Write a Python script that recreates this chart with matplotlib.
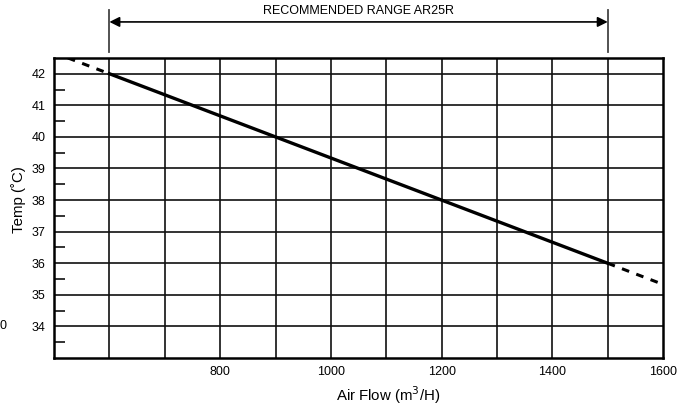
import matplotlib.pyplot as plt
import matplotlib.transforms as mtransforms

plt.rcParams['font.family'] = ['Liberation Sans', 'DejaVu Sans']

# rated range (solid) and extrapolated ends (dashed)
air_flow = [600, 1500]
temp = [42, 36]
air_flow_low = [525, 600]
temp_low = [42.5, 42]
air_flow_high = [1500, 1600]
temp_high = [36, 35.33]

range_start = 600
range_end = 1500
range_label = 'RECOMMENDED RANGE AR25R'

x_ticks = [800, 1000, 1200, 1400, 1600]
y_ticks = [34, 35, 36, 37, 38, 39, 40, 41, 42]

fig = plt.figure(figsize=(6.9, 4.08), dpi=100)
ax = fig.add_axes([0.0783, 0.1225, 0.8827, 0.7355])

ax.set_xlim(500, 1600)
ax.set_ylim(33, 42.5)

# grid every 100 on x, every 1 on y
for gx in range(600, 1600, 100):
    ax.axvline(gx, color='#111111', lw=1.2, zorder=1)
for gy in y_ticks:
    ax.axhline(gy, color='#111111', lw=1.2, zorder=1)

ax.plot(air_flow, temp, color='black', lw=2.4, zorder=3)
ax.plot(air_flow_low, temp_low, color='black', lw=2.2, ls=(0, (2.5, 2.5)), zorder=3)
ax.plot(air_flow_high, temp_high, color='black', lw=2.2, ls=(0, (2.5, 2.5)), zorder=3)

ax.set_xticks(x_ticks)
ax.set_yticks(y_ticks)
ax.set_yticks([v + 0.5 for v in range(33, 42)], minor=True)
ax.tick_params(axis='both', which='major', length=0, labelsize=9, pad=6)
ax.tick_params(axis='y', which='minor', direction='in', length=8, width=1.2, color='#111111')
ax.tick_params(axis='x', which='minor', length=0)

for s in ax.spines.values():
    s.set_linewidth(1.8)
    s.set_color('black')

ax.set_xlabel('Air Flow (m$^3$/H)', fontsize=10.8, va='center')
ax.xaxis.set_label_coords(0.548, -0.123)
ax.set_ylabel('Temp (˚C)', fontsize=10.8, va='center')
ax.yaxis.set_label_coords(-0.059, 0.527)

# recommended range marker above the plot
trans = mtransforms.blended_transform_factory(ax.transData, ax.transAxes)
for xv in (range_start, range_end):
    ax.plot([xv, xv], [1.02, 1.16], transform=trans, color='#444444', lw=1.3, clip_on=False)
ax.annotate('', xy=(range_start, 1.12), xytext=(range_end, 1.12),
            xycoords=trans, textcoords=trans,
            arrowprops=dict(arrowstyle='<|-|>', color='black', lw=1.2,
                            mutation_scale=15, shrinkA=0, shrinkB=0))
ax.text((range_start + range_end) / 2, 1.135, range_label, transform=trans,
        ha='center', va='bottom', fontsize=9)

fig.text(0.0, 1 - 326 / 408, '0', fontsize=9, va='center', ha='left')

fig.savefig('out.png', dpi=100)
